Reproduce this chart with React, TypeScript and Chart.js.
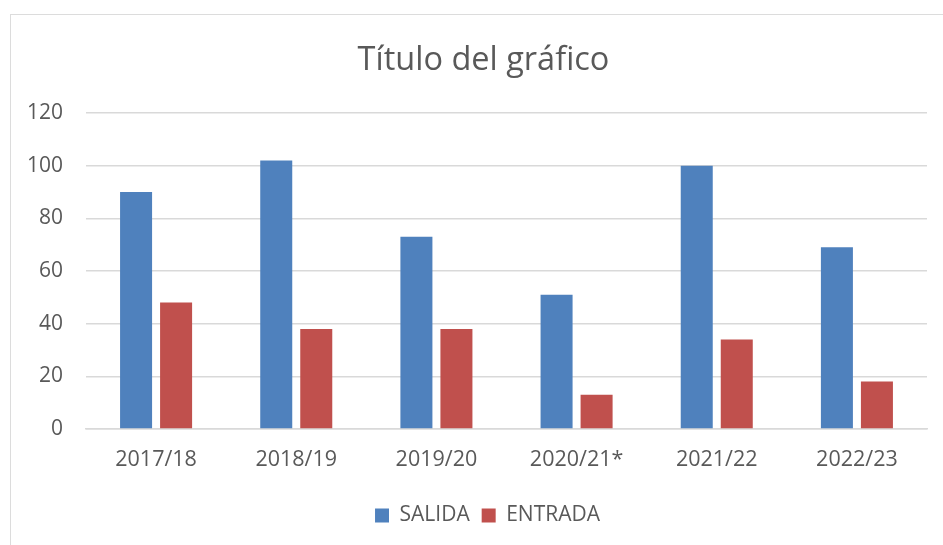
import { useEffect, useRef } from "react";
import { Chart, registerables } from "chart.js";

Chart.register(...registerables);

const categories = ["2017/18", "2018/19", "2019/20", "2020/21*", "2021/22", "2022/23"];
const salida = [90, 102, 73, 51, 100, 69];
const entrada = [48, 38, 38, 13, 34, 18];
const yMin = 0;
const yMax = 120;
const yStep = 20;

const FONT = "'Open Sans', 'Noto Sans', sans-serif";
const TEXT = "#595959";
const GRID = "#D9D9D9";

// Shift the title and legend blocks so they are centred on the outer chart frame
const centerOnFrame = {
  id: "centerOnFrame",
  afterLayout(chart: any) {
    const t = chart.titleBlock;
    if (t) {
      t.left += 20;
      t.right += 20;
    }
    const l = chart.legend;
    if (l) {
      l.left += 24;
      l.right += 24;
    }
  },
};

export default function App() {
  const ref = useRef<HTMLCanvasElement>(null);

  useEffect(() => {
    document.body.style.margin = "0";
    const chart = new Chart(ref.current!, {
      type: "bar",
      data: {
        labels: categories,
        datasets: [
          { label: "SALIDA", data: salida, backgroundColor: "#4F81BD" },
          { label: "ENTRADA", data: entrada, backgroundColor: "#C0504D" },
        ],
      },
      plugins: [centerOnFrame],
      options: {
        animation: false,
        responsive: false,
        layout: { padding: { left: 0, right: 16, top: 0, bottom: 9 } },
        datasets: { bar: { categoryPercentage: 0.571, barPercentage: 0.8 } },
        plugins: {
          title: {
            display: true,
            text: "Título del gráfico",
            color: TEXT,
            font: { family: FONT, size: 32.5, weight: "normal" },
            padding: { top: 41, bottom: 33 },
          },
          legend: {
            position: "bottom",
            labels: {
              boxWidth: 14,
              boxHeight: 14,
              color: TEXT,
              font: { family: FONT, size: 21 },
              padding: 12,
            },
          },
          tooltip: { enabled: false },
        },
        scales: {
          x: {
            grid: { display: false, drawTicks: false },
            border: { color: GRID, width: 1.5 },
            ticks: { color: TEXT, font: { family: FONT, size: 21.5 }, padding: 18 },
            afterFit: (s: any) => {
              s.height = 64;
            },
          },
          y: {
            min: yMin,
            max: yMax,
            ticks: { stepSize: yStep, color: TEXT, font: { family: FONT, size: 21 }, padding: 23 },
            grid: { color: GRID, lineWidth: 1.5, drawTicks: false },
            border: { display: false },
            afterFit: (s: any) => {
              s.width = 86;
            },
          },
        },
      },
    });
    return () => chart.destroy();
  }, []);

  return (
    <div style={{ position: "fixed", left: 0, top: 0, width: 943, height: 545, background: "#fff", overflow: "hidden" }}>
      <div
        style={{
          position: "absolute",
          left: 10,
          top: 14,
          width: 960,
          height: 560,
          border: "1.5px solid #DCDCDC",
          boxSizing: "border-box",
        }}
      />
      <canvas ref={ref} width={943} height={545} style={{ position: "absolute", left: 0, top: 0 }} />
    </div>
  );
}
